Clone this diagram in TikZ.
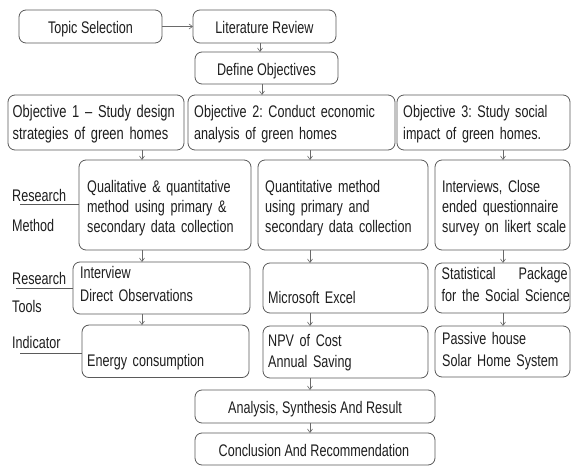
\documentclass[tikz,border=0pt]{standalone}
\usepackage{fontspec}
\setmainfont{Liberation Sans}[FakeStretch=0.75]
\usetikzlibrary{arrows.meta}
\definecolor{boxgray}{HTML}{5A5A5A}
\definecolor{arrgray}{HTML}{6A6A6A}
\definecolor{txtcol}{HTML}{1E1E1E}
\frenchspacing
\hyphenpenalty=10000
\begin{document}
\begin{tikzpicture}[x=1pt,y=-1pt,
  box/.style={draw=boxgray, line width=0.8pt, rounded corners=7pt, inner sep=0pt, outer sep=0pt},
  txt/.style={inner sep=0pt, anchor=base west, text width=200pt, align=left, text=txtcol,
              font=\fontsize{16.8}{20}\selectfont},
  ctxt/.style={inner sep=0pt, anchor=base, text=txtcol, font=\fontsize{16.8}{20}\selectfont},
  arr/.style={draw=arrgray, line width=0.6pt, -{Straight Barb[length=3.5pt,width=5pt]}},
  lbl/.style={draw=boxgray, line width=0.8pt}]
\useasboundingbox (0,0) rectangle (571,466);
\fill[white] (0,0) rectangle (571,466);

% ---- boxes ----
\node[box, minimum width=143pt, minimum height=33pt] (ts) at (90.5,26.5) {};
\node[box, minimum width=143pt, minimum height=33pt] (lr) at (264.5,26.5) {};
\node[box, minimum width=143pt, minimum height=32pt] (do) at (266.5,68) {};
\node[box, minimum width=176pt, minimum height=55pt] (o1) at (96,122.5) {};
\node[box, minimum width=207pt, minimum height=55pt] (o2) at (291.5,122.5) {};
\node[box, minimum width=173pt, minimum height=55pt] (o3) at (483.5,122.5) {};
\node[box, minimum width=172pt, minimum height=90pt] (m1) at (165,205) {};
\node[box, minimum width=170pt, minimum height=90pt] (m2) at (343,205) {};
\node[box, minimum width=135pt, minimum height=90pt] (m3) at (502.5,205) {};
\node[box, minimum width=177pt, minimum height=52pt] (t1) at (161.5,288) {};
\node[box, minimum width=165pt, minimum height=50pt] (t2) at (345.5,288) {};
\node[box, minimum width=135pt, minimum height=50pt] (t3) at (502.5,288) {};
\node[box, minimum width=167pt, minimum height=52.5pt] (i1) at (165.5,351.3) {};
\node[box, minimum width=165pt, minimum height=52pt] (i2) at (345.5,352) {};
\node[box, minimum width=135pt, minimum height=51pt] (i3) at (502.5,351.5) {};
\node[box, minimum width=240pt, minimum height=33pt] (an) at (315,406.5) {};
\node[box, minimum width=240pt, minimum height=32pt] (co) at (315,449) {};

% ---- texts ----
\node[ctxt] (tsT) at (90.5,33.3) {Topic Selection};
\node[ctxt] (lrT) at (264.5,33.3) {Literature Review};
\node[ctxt] (doT) at (266.5,75) {Define Objectives};
\node[txt, font=\fontsize{17.2}{22}\selectfont] (o1T) at (12.5,117.3) {Objective 1 – Study design\\strategies of green homes};
\node[txt, font=\fontsize{16.8}{22}\selectfont] (o2T) at (194,117.3) {Objective 2: Conduct economic\\analysis of green homes};
\node[txt, font=\fontsize{16.8}{22}\selectfont] (o3T) at (403,117.3) {Objective 3: Study social\\impact of green homes.};
\node[txt] (m1T) at (87,192.5) {Qualitative \& quantitative\\method using primary \&\\secondary data collection};
\node[txt] (m2T) at (265,192.5) {Quantitative method\\using primary and\\secondary data collection};
\node[txt] (m3T) at (442,192.5) {Interviews, Close\\ended questionnaire\\survey on likert scale};
\node[txt, font=\fontsize{16.8}{23}\selectfont] (t1T) at (80,278.3) {Interview\\Direct Observations};
\node[txt] (t2T) at (268,303.3) {Microsoft Excel};
\node[txt, text width=126pt, font=\fontsize{16.8}{22.5}\selectfont] (t3T) at (441.5,279) {Statistical\hfill Package\\\mbox{for the Social Science}};
\node[txt] (i1T) at (87,366.7) {Energy consumption};
\node[txt, font=\fontsize{16.8}{21.7}\selectfont] (i2T) at (268,346) {NPV of Cost\\Annual Saving};
\node[txt, font=\fontsize{16.8}{22}\selectfont] (i3T) at (442,344) {Passive house\\Solar Home System};
\node[ctxt] (anT) at (315,413.3) {Analysis, Synthesis And Result};
\node[ctxt] (coT) at (314,456.7) {Conclusion And Recommendation};

% ---- side labels ----
\node[txt] (rs1) at (12,201.5) {Research};
\node[txt] (me1) at (12,231.7) {Method};
\node[txt] (rs2) at (12,284) {Research};
\node[txt] (to2) at (12,312) {Tools};
\node[txt] (ind) at (12,348.3) {Indicator};
\coordinate (r1) at (20,204);
\coordinate (r2) at (16,288.3);
\coordinate (r3) at (20,353.3);
\draw[lbl] (r1) -- (r1 -| m1.west);
\draw[lbl] (r2) -- (r2 -| t1.west);
\draw[lbl] (r3) -- (r3 -| i1.west);

% ---- connectors ----
\coordinate (xa) at (260,0);
\coordinate (xb) at (262,0);
\coordinate (c1) at (142,0);
\coordinate (c2) at (310,0);
\coordinate (c3) at (503,0);
\draw[arr] (ts.east) -- (lr.west);
\draw[arr] (lr.south -| xa) -- (do.north -| xa);
\draw[arr] (do.south -| xb) -- (o2.north -| xb);
\draw[arr] (o1.south -| c1) -- (m1.north -| c1);
\draw[arr] (o2.south -| c2) -- (m2.north -| c2);
\draw[arr] (o3.south -| c3) -- (m3.north -| c3);
\draw[arr] (m1.south -| c1) -- (t1.north -| c1);
\draw[arr] (m2.south -| c2) -- (t2.north -| c2);
\draw[arr] (m3.south -| c3) -- (t3.north -| c3);
\draw[arr] (t1.south -| c1) -- (i1.north -| c1);
\draw[arr] (t2.south -| c2) -- (i2.north -| c2);
\draw[arr] (t3.south -| c3) -- (i3.north -| c3);
\draw[arr] (i2.south -| c2) -- (an.north -| c2);
\draw[arr] (an.south -| c2) -- (co.north -| c2);
\end{tikzpicture}
\end{document}
